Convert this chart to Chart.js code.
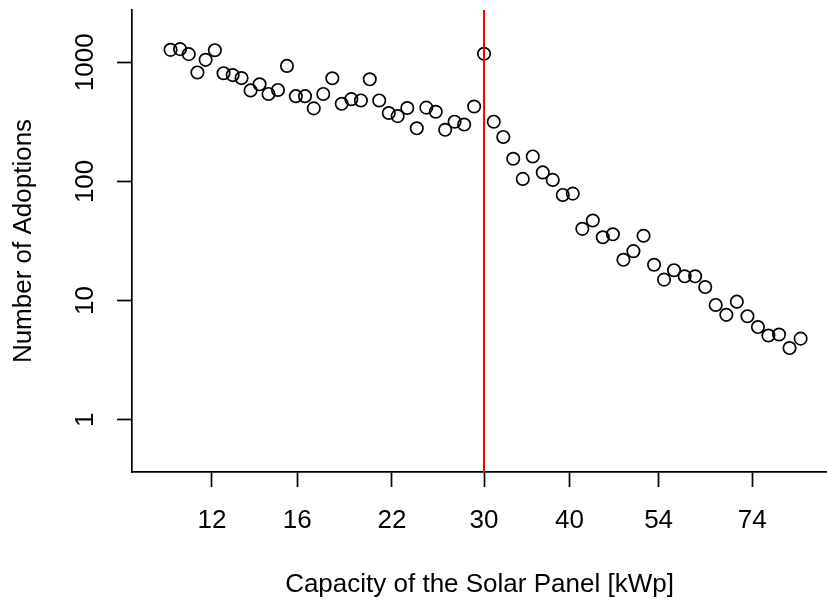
<!DOCTYPE html>
<html>
<head>
<meta charset="utf-8">
<script src="https://cdn.jsdelivr.net/npm/chart.js@4.4.0/dist/chart.umd.min.js"></script>
<style>
  html, body { margin: 0; padding: 0; background: #ffffff; }
  #wrap { width: 827px; height: 600px; }
</style>
</head>
<body>
<div id="wrap"><canvas id="c" width="827" height="600"></canvas></div>
<script>
// capacity of each bin [kWp]
const capacity = [
  10.44, 10.78, 11.10, 11.43, 11.75, 12.12, 12.48, 12.87, 13.26, 13.67,
  14.09, 14.52, 14.99, 15.45, 15.92, 16.42, 16.91, 17.46, 18.00, 18.58,
  19.19, 19.82, 20.42, 21.08, 21.77, 22.43, 23.17, 23.92, 24.70, 25.50,
  26.32, 27.17, 28.06, 29.02, 30.00, 31.00, 32.01, 33.10, 34.18, 35.35,
  36.56, 37.81, 39.11, 40.45, 41.77, 43.27, 44.75, 46.30, 47.97, 49.61,
  51.33, 53.18, 55.00, 56.88, 58.95, 61.07, 63.18, 65.45, 67.83, 70.27,
  72.83, 75.45, 78.16, 81.00, 83.92, 87.11
];

// number of adoptions per bin
const adoptions = [
  1270, 1288, 1169, 821, 1047, 1261, 809, 780, 736, 580,
  653, 542, 585, 931, 519, 519, 410, 542, 734, 448,
  490, 478, 719, 478, 375, 353, 413, 279, 416, 384,
  271, 317, 300, 425, 1178, 317, 236, 155, 105, 162,
  119, 103, 77, 79, 40, 47, 34, 36, 22, 26,
  35, 20, 15, 18, 16, 16, 13, 9.2, 7.6, 9.8,
  7.4, 6.0, 5.1, 5.2, 4.0, 4.8
];

const xTicks = [12, 16, 22, 30, 40, 54, 74];
const yTicks = [1, 10, 100, 1000];
const xRange = [9.17, 95.2];
const yRange = [0.365, 2742];
const cutoff = 30; // red vertical line

Chart.defaults.font.family = "'Liberation Sans', Arial, Helvetica, sans-serif";
Chart.defaults.font.size = 26;
Chart.defaults.color = '#000000';

const points = capacity.map((c, i) => ({ x: c, y: adoptions[i] }));

new Chart(document.getElementById('c'), {
  type: 'scatter',
  data: {
    datasets: [
      {
        type: 'line',
        label: 'cutoff',
        data: [{ x: cutoff, y: yRange[0] }, { x: cutoff, y: yRange[1] }],
        borderColor: '#ff0000',
        borderWidth: 2,
        pointRadius: 0,
        fill: false,
      },
      {
        label: 'adoptions',
        data: points,
        pointStyle: 'circle',
        pointRadius: 6.2,
        pointBorderWidth: 1.7,
        borderColor: '#000000',
        backgroundColor: 'rgba(0,0,0,0)',
        pointBackgroundColor: 'rgba(0,0,0,0)',
      }
    ]
  },
  options: {
    responsive: false,
    animation: false,
    events: [],
    layout: { autoPadding: false, padding: { top: 10, right: 0, bottom: 0, left: 0 } },
    plugins: {
      legend: { display: false },
      tooltip: { enabled: false },
    },
    scales: {
      x: {
        type: 'logarithmic',
        min: xRange[0],
        max: xRange[1],
        afterBuildTicks: (s) => { s.ticks = xTicks.map(v => ({ value: v })); },
        afterFit: (s) => { s.height = 128; s.paddingLeft = 0; s.paddingRight = 0; },
        ticks: {
          callback: (v) => String(v),
          padding: 18,
          maxRotation: 0,
          autoSkip: false,
        },
        grid: {
          display: true,
          drawOnChartArea: false,
          drawTicks: true,
          tickLength: 15,
          tickColor: '#000000',
          tickWidth: 1.7,
        },
        border: { display: true, color: '#000000', width: 1.7 },
        title: {
          display: true,
          text: 'Capacity of the Solar Panel [kWp]',
          padding: { top: 0, bottom: 0 },
        },
      },
      y: {
        type: 'logarithmic',
        min: yRange[0],
        max: yRange[1],
        afterBuildTicks: (s) => { s.ticks = yTicks.map(v => ({ value: v })); },
        afterFit: (s) => { s.width = 132; s.paddingTop = 0; s.paddingBottom = 0; },
        ticks: {
          callback: (v) => String(v),
          minRotation: 90,
          maxRotation: 90,
          crossAlign: 'center',
          padding: 2,
          autoSkip: false,
        },
        grid: {
          display: true,
          drawOnChartArea: false,
          drawTicks: true,
          tickLength: 15,
          tickColor: '#000000',
          tickWidth: 1.7,
        },
        border: { display: true, color: '#000000', width: 1.7 },
        title: {
          display: true,
          text: 'Number of Adoptions',
          padding: { top: 8, bottom: 0 },
        },
      }
    }
  }
});
</script>
</body>
</html>
